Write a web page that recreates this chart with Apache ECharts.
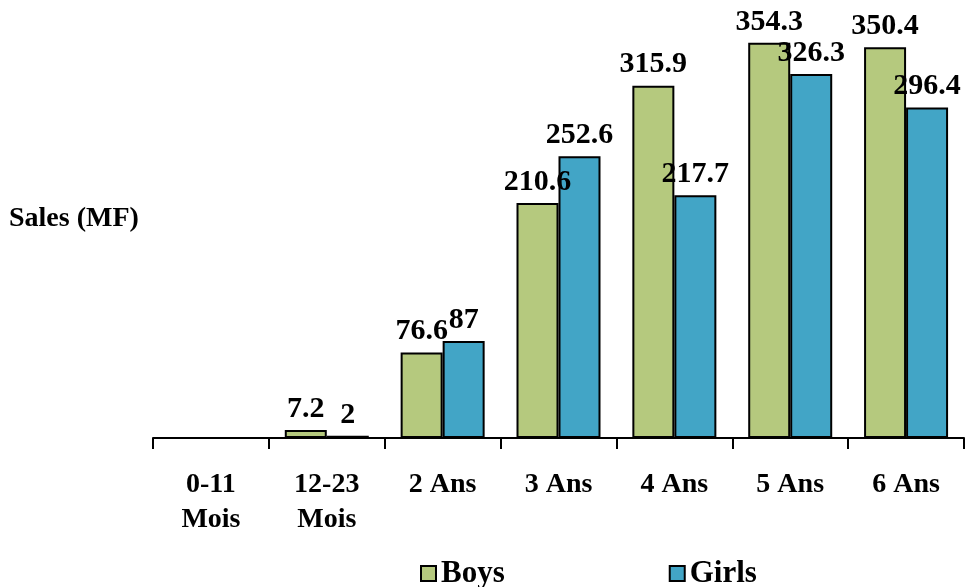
<!DOCTYPE html>
<html><head><meta charset="utf-8">
<script src="https://cdn.jsdelivr.net/npm/echarts@6/dist/echarts.min.js"></script>
<style>html,body{margin:0;padding:0;background:#fff}#c{width:966px;height:587px}</style>
</head><body><div id="c"></div>
<script>
const categories = ['0-11\nMois', '12-23\nMois', '2 Ans', '3 Ans', '4 Ans', '5 Ans', '6 Ans'];
const boys = [null, 7.2, 76.6, 210.6, 315.9, 354.3, 350.4];
const girls = [null, 2, 87, 252.6, 217.7, 326.3, 296.4];
const yTitle = 'Sales (MF)';

const FONT = '"Liberation Serif", "Times New Roman", serif';
const chart = echarts.init(document.getElementById('c'), null, {renderer: 'canvas'});
const labelCfg = {
  show: true, position: 'top', distance: 6,
  fontFamily: FONT, fontWeight: 'bold', fontSize: 30, color: '#000'
};
chart.setOption({
  animation: false,
  backgroundColor: '#fff',
  grid: {left: 153, right: 2, top: 3, bottom: 149, containLabel: false},
  graphic: [{
    type: 'text', left: 9, top: 205,
    style: {text: yTitle, fontFamily: FONT, fontWeight: 'bold', fontSize: 28, fill: '#000'}
  }],
  legend: {
    left: 415, top: 553, itemWidth: 15, itemHeight: 15, itemGap: 164,
    icon: 'rect',
    textStyle: {fontFamily: FONT, fontWeight: 'bold', fontSize: 31, color: '#000'},
    data: ['Boys', 'Girls']
  },
  xAxis: {
    type: 'category', data: categories,
    axisLine: {show: true, lineStyle: {color: '#000', width: 2}},
    axisTick: {show: true, length: 11, lineStyle: {color: '#000', width: 2}},
    axisLabel: {fontFamily: FONT, fontWeight: 'bold', fontSize: 28, color: '#000', margin: 29, lineHeight: 35, interval: 0}
  },
  yAxis: {
    type: 'value', min: 0, max: 390, show: false,
    splitLine: {show: false}
  },
  series: [
    {name: 'Boys', type: 'bar', data: boys, barWidth: 42, barGap: '0%',
     itemStyle: {color: '#B5C97E', borderColor: '#000', borderWidth: 2},
     label: labelCfg},
    {name: 'Girls', type: 'bar', data: girls, barWidth: 42, barGap: '0%',
     itemStyle: {color: '#42A5C6', borderColor: '#000', borderWidth: 2},
     label: labelCfg}
  ]
});
</script></body></html>
